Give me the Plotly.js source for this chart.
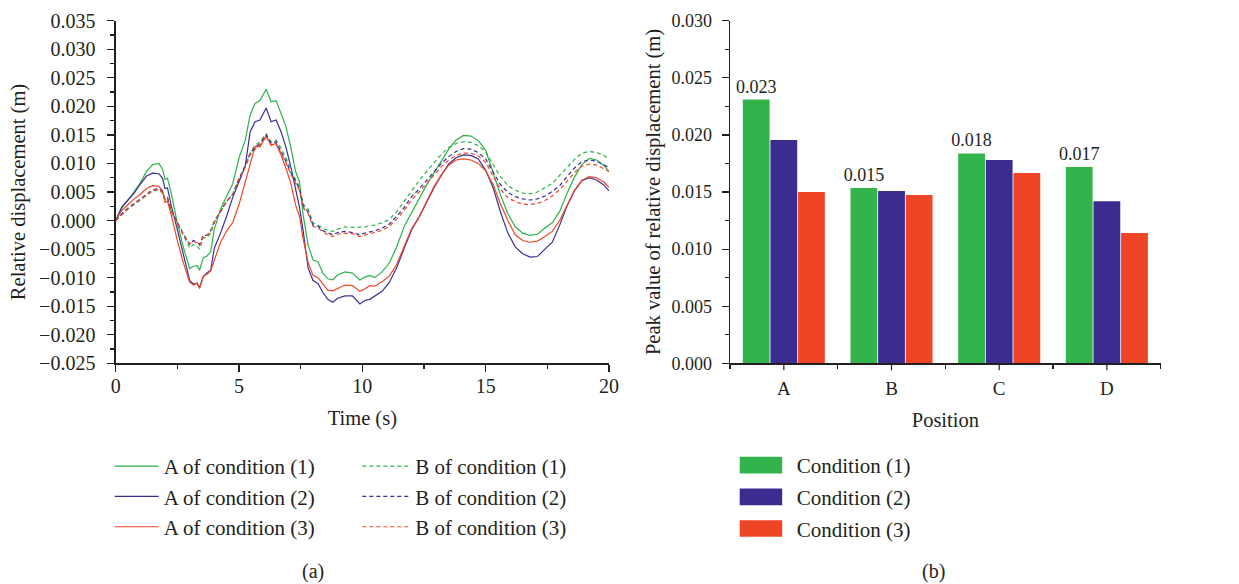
<!DOCTYPE html>
<html><head><meta charset="utf-8">
<script src="https://cdn.plot.ly/plotly-3.0.1.min.js"></script>
<style>html,body{margin:0;padding:0;background:#fff}#chart{width:1239px;height:584px}</style>
</head><body><div id="chart"></div>
<script>
// ---------- data: panel (a) relative displacement (m) vs time (s) ----------
const time = [0,0.25,0.5,0.75,1,1.25,1.5,1.75,1.9,2,2.1,2.25,2.5,2.75,3,3.15,3.3,3.4,3.55,3.7,3.85,4,4.25,4.5,4.75,5,5.25,5.45,5.65,5.85,6.1,6.3,6.5,6.7,6.9,7.1,7.3,7.45,7.6,7.8,8,8.2,8.4,8.6,8.8,9,9.3,9.6,9.9,10.1,10.3,10.5,10.8,11.1,11.4,11.7,12,12.3,12.6,12.9,13.2,13.5,13.8,14.1,14.4,14.7,15,15.3,15.6,15.9,16.2,16.5,16.8,17.1,17.4,17.7,18,18.3,18.6,18.9,19.2,19.5,19.8,20];

const dispA1 = [0,0.0022,0.0036,0.0050,0.0066, 0.0086,0.0098,0.0100,0.0090,0.0072, 0.0074,0.0048,-0.0005,-0.0048,-0.0084, -0.0080,-0.0079,-0.0087,-0.0065,-0.0062, -0.0055,-0.0015,0.0020,0.0043,0.0065, 0.0110,0.0140,0.0185,0.0205,0.0210, 0.0230,0.0208,0.0210,0.0188,0.0165, 0.0128,0.0085,0.0068,0.0010,-0.0043, -0.0069,-0.0072,-0.0092,-0.0102,-0.0104, -0.0095,-0.0090,-0.0092,-0.0104,-0.0099, -0.0096,-0.0100,-0.0090,-0.0074,-0.0045, -0.0010,0.0013,0.0038,0.0062,0.0083, 0.0102,0.0125,0.0141,0.0149,0.0148, 0.0140,0.0123,0.0085,0.0045,0.0012, -0.0011,-0.0022,-0.0026,-0.0024,-0.0013, -0.0004,0.0016,0.0048,0.0076,0.0098, 0.0109,0.0106,0.0096,0.0086];

const dispA2 = [0,0.0024,0.0036,0.0048,0.0064, 0.0078,0.0083,0.0082,0.0074,0.0056, 0.0057,0.0026,-0.0016,-0.0060,-0.0105, -0.0111,-0.0110,-0.0117,-0.0098,-0.0092, -0.0087,-0.0048,-0.0022,0.0008,0.0041, 0.0068,0.0095,0.0155,0.0173,0.0176, 0.0197,0.0173,0.0176,0.0156,0.0129, 0.0094,0.0054,0.0024,-0.0018,-0.0083, -0.0105,-0.0110,-0.0126,-0.0138,-0.0143, -0.0136,-0.0132,-0.0132,-0.0146,-0.0140, -0.0138,-0.0133,-0.0124,-0.0108,-0.0082, -0.0048,-0.0016,0.0006,0.0032,0.0057, 0.0079,0.0099,0.0110,0.0115,0.0114, 0.0108,0.0088,0.0058,0.0015,-0.0022, -0.0046,-0.0058,-0.0064,-0.0063,-0.0050, -0.0038,-0.0008,0.0026,0.0052,0.0070, 0.0075,0.0071,0.0062,0.0052];

const dispA3 = [0,0.0018,0.0028,0.0038,0.0046, 0.0056,0.0061,0.0060,0.0052,0.0032, 0.0034,0.0010,-0.0035,-0.0075,-0.0108, -0.0113,-0.0109,-0.0119,-0.0098,-0.0094, -0.0088,-0.0070,-0.0038,-0.0018,-0.0003, 0.0028,0.0067,0.0095,0.0130,0.0129, 0.0148,0.0132,0.0135,0.0115,0.0092, 0.0065,0.0026,0.0008,-0.0032,-0.0074, -0.0096,-0.0100,-0.0112,-0.0122,-0.0123, -0.0119,-0.0113,-0.0114,-0.0124,-0.0120, -0.0114,-0.0115,-0.0107,-0.0097,-0.0076, -0.0045,-0.0014,0.0006,0.0032,0.0059, 0.0080,0.0097,0.0106,0.0108,0.0106, 0.0100,0.0087,0.0063,0.0029,0.0000, -0.0025,-0.0035,-0.0038,-0.0036,-0.0028, -0.0019,0.0000,0.0026,0.0053,0.0070, 0.0077,0.0075,0.0067,0.0058];

const dispB1 = [0,0.0010,0.0020,0.0028,0.0036, 0.0045,0.0052,0.0054,0.0048,0.0036, 0.0039,0.0016,-0.0006,-0.0028,-0.0048, -0.0042,-0.0045,-0.0050,-0.0030,-0.0030, -0.0022,-0.0003,0.0016,0.0034,0.0046, 0.0073,0.0096,0.0118,0.0132,0.0138, 0.0152,0.0138,0.0141,0.0127,0.0109, 0.0089,0.0071,0.0059,0.0029,0.0020, -0.0004,-0.0008,-0.0014,-0.0017,-0.0019, -0.0015,-0.0011,-0.0012,-0.0012,-0.0011, -0.0009,-0.0008,-0.0004,0.0002,0.0016, 0.0035,0.0052,0.0070,0.0086,0.0102, 0.0116,0.0128,0.0135,0.0138,0.0137, 0.0131,0.0121,0.0098,0.0077,0.0061, 0.0053,0.0048,0.0047,0.0050,0.0057, 0.0065,0.0079,0.0093,0.0107,0.0118, 0.0121,0.0119,0.0114,0.0108];

const dispB2 = [0,0.0012,0.0022,0.0030,0.0038, 0.0047,0.0054,0.0056,0.0050,0.0037, 0.0040,0.0018,-0.0004,-0.0024,-0.0042, -0.0035,-0.0038,-0.0042,-0.0026,-0.0026, -0.0018,-0.0001,0.0016,0.0034,0.0046, 0.0073,0.0096,0.0118,0.0128,0.0135, 0.0150,0.0135,0.0138,0.0122,0.0104, 0.0084,0.0068,0.0056,0.0026,0.0015, -0.0008,-0.0010,-0.0018,-0.0022,-0.0025, -0.0021,-0.0019,-0.0021,-0.0025,-0.0022, -0.0020,-0.0018,-0.0013,-0.0006,0.0008, 0.0023,0.0042,0.0055,0.0070,0.0086, 0.0100,0.0112,0.0121,0.0126,0.0125, 0.0119,0.0108,0.0085,0.0063,0.0049, 0.0042,0.0038,0.0036,0.0038,0.0043, 0.0051,0.0061,0.0077,0.0092,0.0103, 0.0106,0.0104,0.0098,0.0093];

const dispB3 = [0,0.0011,0.0021,0.0029,0.0037, 0.0046,0.0053,0.0055,0.0049,0.0036, 0.0039,0.0017,-0.0005,-0.0025,-0.0041, -0.0036,-0.0039,-0.0044,-0.0027,-0.0026, -0.0020,-0.0003,0.0016,0.0034,0.0046, 0.0073,0.0093,0.0115,0.0125,0.0132, 0.0148,0.0132,0.0135,0.0119,0.0101, 0.0081,0.0065,0.0053,0.0023,0.0012, -0.0010,-0.0013,-0.0020,-0.0025,-0.0028, -0.0024,-0.0022,-0.0023,-0.0028,-0.0025, -0.0023,-0.0021,-0.0017,-0.0010,0.0003, 0.0018,0.0036,0.0050,0.0065,0.0080, 0.0094,0.0106,0.0114,0.0118,0.0118, 0.0113,0.0102,0.0078,0.0055,0.0040, 0.0033,0.0029,0.0028,0.0030,0.0035, 0.0043,0.0054,0.0069,0.0084,0.0095, 0.0099,0.0097,0.0091,0.0086];

const lineNamesA = ['A of condition (1)','A of condition (2)','A of condition (3)'];
const lineNamesB = ['B of condition (1)','B of condition (2)','B of condition (3)'];

// ---------- data: panel (b) peak value of relative displacement (m) ----------
const positions = ['A','B','C','D'];
const peakCond1 = [0.0231,0.01535,0.01838,0.01719];
const peakCond2 = [0.01955,0.01509,0.0178,0.01418];
const peakCond3 = [0.0150,0.01474,0.01666,0.01141];
const barNames = ['Condition (1)','Condition (2)','Condition (3)'];

// ---------- styling ----------
const FONT = 'Liberation Serif';
const INK = '#231f20';
const lineColors = ['#2bb24a','#3a2f94','#ef4527'];
const barColors = ['#33b34c','#3b2d8f','#ef4527'];

const seriesA = [dispA1, dispA2, dispA3];
const seriesB = [dispB1, dispB2, dispB3];
const peaks = [peakCond1, peakCond2, peakCond3];

const traces = [];
seriesA.forEach((ys, i) => traces.push({
  type: 'scatter', mode: 'lines', x: time, y: ys, name: lineNamesA[i],
  line: {color: lineColors[i], width: 1.2}, xaxis: 'x', yaxis: 'y',
  legend: 'legend', legendgroup: 'a' + i
}));
seriesB.forEach((ys, i) => traces.push({
  type: 'scatter', mode: 'lines', x: time, y: ys, name: lineNamesB[i],
  line: {color: lineColors[i], width: 1.2, dash: '4px,3px'}, xaxis: 'x', yaxis: 'y',
  legend: 'legend2', legendgroup: 'b' + i
}));
peaks.forEach((ys, i) => traces.push({
  type: 'bar', x: positions, y: ys, name: barNames[i],
  marker: {color: barColors[i], line: {width: 0}}, xaxis: 'x2', yaxis: 'y2',
  legend: 'legend3', legendgroup: 'c' + i,
  texttemplate: i === 0 ? '%{y:.3f}' : '', textposition: i === 0 ? 'outside' : 'none',
  textfont: {family: FONT, size: 18, color: INK}, constraintext: 'none', cliponaxis: false
}));

const W = 1239, H = 584;
const yDom = [1 - 363.3 / H, 1 - 20.7 / H];
const axBase = {
  showline: true, linecolor: INK, linewidth: 1.3, showgrid: false, zeroline: false,
  ticks: 'outside', tickcolor: INK, tickwidth: 1.2, ticklen: 7, fixedrange: true
};

const legendBase = {
  orientation: 'v', xanchor: 'left', yanchor: 'top', bgcolor: 'rgba(0,0,0,0)',
  font: {family: FONT, size: 21, color: INK},
  traceorder: 'grouped', tracegroupgap: 0
};

const shapes = positions.map(p => ({
  type: 'line', xref: 'x2', yref: 'paper', x0: p, x1: p,
  ysizemode: 'pixel', yanchor: yDom[0], y0: 0, y1: -7,
  line: {color: INK, width: 1.2}
}));

const layout = {
  width: W, height: H, autosize: false,
  margin: {l: 0, r: 0, t: 0, b: 0},
  paper_bgcolor: '#fff', plot_bgcolor: '#fff',
  font: {family: FONT, color: INK},
  showlegend: true,
  barmode: 'group', bargap: 0.23, bargroupgap: 0.03,
  xaxis: Object.assign({}, axBase, {
    domain: [115.7 / W, 609 / W], anchor: 'y', range: [0, 20], dtick: 5, tick0: 0,
    minor: {dtick: 2.5, ticks: 'outside', ticklen: 4, tickcolor: INK, tickwidth: 1.2, showgrid: false},
    tickfont: {family: FONT, size: 20, color: INK}, ticklabelstandoff: -3,
    title: {text: 'Time (s)', font: {family: FONT, size: 20.5, color: INK}, standoff: 15}
  }),
  yaxis: Object.assign({}, axBase, {
    domain: yDom, anchor: 'x', range: [-0.025, 0.035], dtick: 0.005, tick0: 0, tickformat: '.3f',
    minor: {dtick: 0.0025, ticks: 'outside', ticklen: 4, tickcolor: INK, tickwidth: 1.2, showgrid: false},
    tickfont: {family: FONT, size: 20, color: INK}, ticklabelstandoff: 8,
    title: {text: 'Relative displacement (m)', font: {family: FONT, size: 20.5, color: INK}, standoff: 8}
  }),
  xaxis2: Object.assign({}, axBase, {
    domain: [730 / W, 1160.7 / W], anchor: 'y2', type: 'category', range: [-0.5, 3.5],
    tickson: 'boundaries', ticklen: 4,
    tickfont: {family: FONT, size: 19, color: INK}, ticklabelstandoff: 8,
    title: {text: 'Position', font: {family: FONT, size: 20.5, color: INK}, standoff: 14}
  }),
  yaxis2: Object.assign({}, axBase, {
    domain: yDom, anchor: 'x2', range: [0, 0.030], dtick: 0.005, tick0: 0, tickformat: '.3f',
    minor: {dtick: 0.0025, ticks: 'outside', ticklen: 4, tickcolor: INK, tickwidth: 1.2, showgrid: false},
    tickfont: {family: FONT, size: 18, color: INK}, ticklabelstandoff: 6,
    title: {text: 'Peak value of relative displacement (m)', font: {family: FONT, size: 20.5, color: INK}, standoff: 5}
  }),
  legend: Object.assign({}, legendBase, {x: 109.7 / W, y: 1 - 446 / H, itemwidth: 44}),
  legend2: Object.assign({}, legendBase, {x: 357.3 / W, y: 1 - 446 / H, itemwidth: 48}),
  legend3: Object.assign({}, legendBase, {x: 736.7 / W, y: 1 - 445 / H, itemwidth: 50, tracegroupgap: 1.4}),
  shapes: shapes,
  annotations: [
    {text: '(a)', xref: 'paper', yref: 'paper', x: 313.3 / W, y: 1 - 571 / H, showarrow: false,
     xanchor: 'center', yanchor: 'middle', font: {family: FONT, size: 20, color: INK}},
    {text: '(b)', xref: 'paper', yref: 'paper', x: 933.3 / W, y: 1 - 571 / H, showarrow: false,
     xanchor: 'center', yanchor: 'middle', font: {family: FONT, size: 20, color: INK}}
  ]
};

function widenBarSwatches(gd) {
  // the original figure uses long rectangles as bar legend keys
  gd.querySelectorAll('.legendpoints path').forEach(p => p.setAttribute('d', 'M-27,8.3H15.5V-8.3H-27Z'));
}

Plotly.newPlot('chart', traces, layout, {displayModeBar: false, staticPlot: true}).then(gd => {
  widenBarSwatches(gd);
  gd.on('plotly_afterplot', () => widenBarSwatches(gd));
  setTimeout(() => widenBarSwatches(gd), 50);
});
</script>
</body></html>
